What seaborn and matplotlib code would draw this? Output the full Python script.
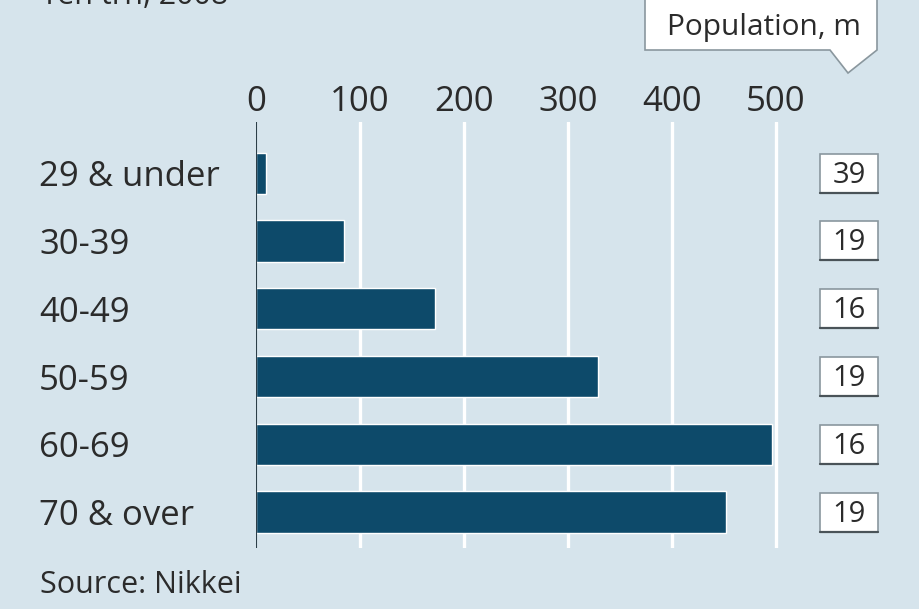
import matplotlib
matplotlib.use("Agg")
import matplotlib.pyplot as plt
from matplotlib.patches import Rectangle, Polygon
from matplotlib.transforms import blended_transform_factory
import seaborn as sns
import pandas as pd

# Financial assets by age of household head, with population per group
age_groups = ["29 & under", "30-39", "40-49", "50-59", "60-69", "70 & over"]
assets = [10, 85, 172, 329, 496, 452]
population = [39, 19, 16, 19, 16, 19]
x_ticks = [0, 100, 200, 300, 400, 500]

BG = "#d6e4ec"
BAR = "#0d4a6a"
INK = "#2b2b2b"

sns.set_theme(style="white")
plt.rcParams["font.family"] = ["Open Sans", "DejaVu Sans"]

W, H = 920, 609
fig = plt.figure(figsize=(W / 100, H / 100), dpi=100, facecolor=BG)


def fx(px):
    return px / W


def fy(py):
    return 1 - py / H


ax_left, ax_top, ax_bottom = 256, 122, 548
px_per_unit = 1.04
x_max = 520
y_lo, y_hi = 5.53, -0.755
ax = fig.add_axes([fx(ax_left), fy(ax_bottom),
                   x_max * px_per_unit / W, (ax_bottom - ax_top) / H])
ax.set_facecolor(BG)

df = pd.DataFrame({"age": age_groups, "assets": assets})
sns.barplot(data=df, y="age", x="assets", orient="h", color=BAR,
            width=0.61, saturation=1, ax=ax, zorder=3)

ax.set_xlim(0, x_max)
ax.set_ylim(y_lo, y_hi)
ax.set_xticks(x_ticks)
ax.set_xticklabels([str(t) for t in x_ticks])
ax.xaxis.tick_top()
ax.set_xlabel("")
ax.set_ylabel("")
for s in ax.spines.values():
    s.set_visible(False)

# white gridlines behind the bars, dark baseline at zero
for t in x_ticks[1:]:
    ax.axvline(t, color="white", lw=2.4, zorder=1)
ax.axvline(0, color="#2c3e48", lw=1.5, zorder=4)

ax.tick_params(axis="x", length=0, pad=2, labelsize=25, labelcolor=INK)
ax.tick_params(axis="y", length=0, pad=(ax_left - 39) * 0.72,
               labelsize=25, labelcolor=INK)
for lab in ax.get_yticklabels():
    lab.set_horizontalalignment("left")
    lab.set_verticalalignment("center_baseline")

# population boxes on the right
tr = blended_transform_factory(fig.transFigure, ax.transData)
box_w = 58 / W
box_h = 39 / ((ax_bottom - ax_top) / (y_lo - y_hi))
box_cx = 849 / W
for i, p in enumerate(population):
    ax.add_patch(Rectangle((box_cx - box_w / 2, i - box_h / 2), box_w, box_h,
                           transform=tr, facecolor="white", edgecolor="#8a979e",
                           lw=1.2, clip_on=False, zorder=5))
    ax.plot([box_cx - box_w / 2, box_cx + box_w / 2], [i + box_h / 2] * 2,
            transform=tr, color="#4a5358", lw=1.6, clip_on=False, zorder=6)
    ax.text(box_cx, i + 0.03, str(p), transform=tr, ha="center", va="center",
            fontsize=21, color=INK, zorder=7, clip_on=False)

# legend callout for the population column
callout = [(645, -5), (877, -5), (877, 50), (848, 73), (830, 50), (645, 50)]
fig.patches.append(Polygon([(fx(x), fy(y)) for x, y in callout], closed=True,
                           transform=fig.transFigure, facecolor="white",
                           edgecolor="#8a979e", lw=1.2))
fig.text(fx(764), fy(27), "Population, m", ha="center", va="center",
         fontsize=21.5, fontweight="medium", color=INK)

fig.text(fx(40), fy(4), "Yen trn, 2008", ha="left", va="baseline",
         fontsize=22, color=INK)
fig.text(fx(40), fy(585), "Source: Nikkei", ha="left", va="center",
         fontsize=22, color=INK)

fig.savefig("out.png", dpi=100, facecolor=BG)
